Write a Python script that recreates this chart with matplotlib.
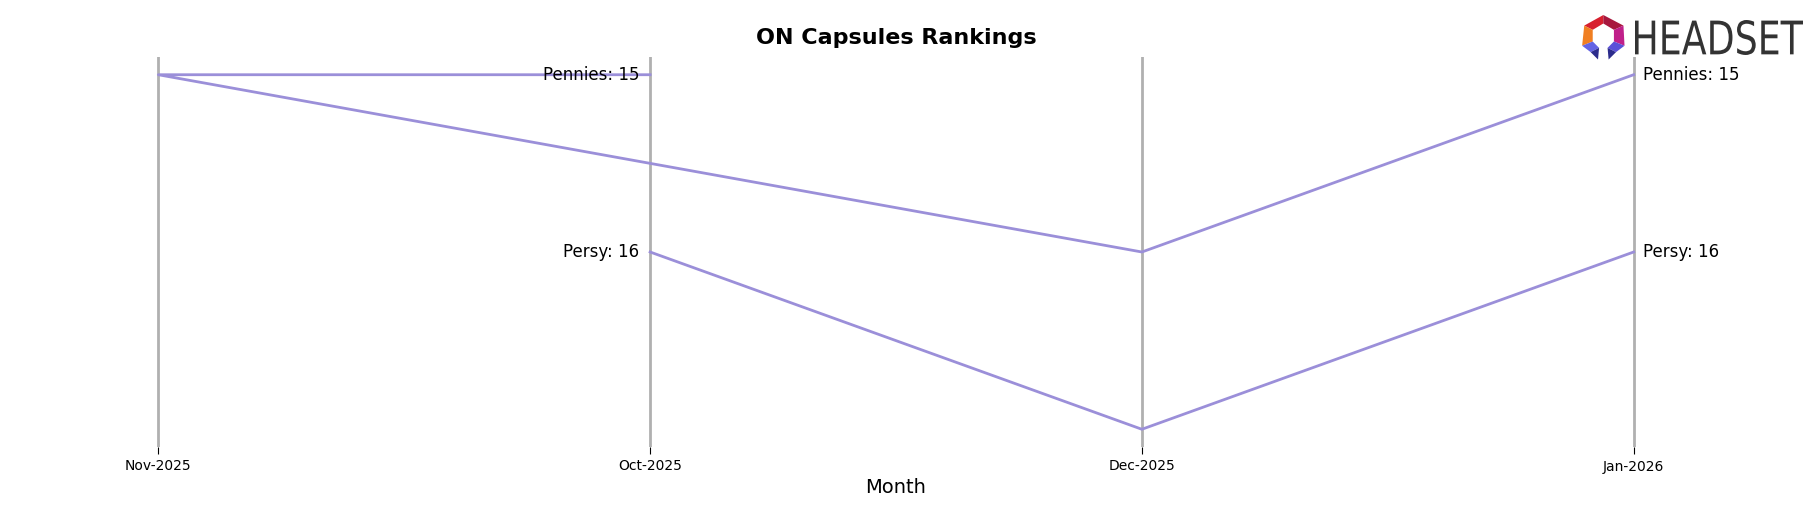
import matplotlib.pyplot as plt
from matplotlib.patches import Polygon, PathPatch
from matplotlib.textpath import TextPath
from matplotlib.font_manager import FontProperties
from matplotlib.transforms import Affine2D

months = ["Nov-2025", "Oct-2025", "Dec-2025", "Jan-2026"]

pennies_months = ["Oct-2025", "Nov-2025", "Dec-2025", "Jan-2026"]
pennies_ranks = [15, 15, 16, 15]

persy_months = ["Oct-2025", "Dec-2025", "Jan-2026"]
persy_ranks = [16, 17, 16]

series = [("Pennies", pennies_months, pennies_ranks),
          ("Persy", persy_months, persy_ranks)]

LINE_COLOR = "#9b8fd9"
W, H = 1818, 507

fig = plt.figure(figsize=(W / 100, H / 100), dpi=100)
ax = fig.add_axes([60 / W, 1 - 447 / H, 1672 / W, 390 / H])

for m in months:
    ax.axvline(months.index(m), color="#b0b0b0", lw=2, zorder=1)

for name, ms, ranks in series:
    xs = [months.index(m) for m in ms]
    ax.plot(xs, ranks, color=LINE_COLOR, lw=2, zorder=2)
    ax.annotate(f"{name}: {ranks[0]}", (xs[0], ranks[0]), xytext=(-8, 0),
                textcoords="offset points", ha="right", va="center", fontsize=12)
    ax.annotate(f"{name}: {ranks[-1]}", (xs[-1], ranks[-1]), xytext=(7, 0),
                textcoords="offset points", ha="left", va="center", fontsize=12)

ax.set_xlim(-0.2, 3.2)
ax.set_ylim(17.1, 14.9)
ax.set_xticks(range(len(months)))
ax.set_xticklabels(months, fontsize=10)
ax.set_yticks([])
ax.tick_params(axis="x", length=5, pad=4)
for s in ax.spines.values():
    s.set_visible(False)
ax.set_xlabel("Month", fontsize=14, labelpad=3)
ax.set_title("ON Capsules Rankings", fontsize=16, fontweight="bold", pad=9)

# logo (pixel coords from top-left)
def px(x, y):
    return (x / W, 1 - y / H)

ox, oy, k = 1580, 15, 1.06
shapes = [
    ("#d8202e", [(4, 10), (22, 0), (22, 8), (12, 14)]),
    ("#a8183e", [(22, 0), (41, 10), (32, 14), (22, 8)]),
    ("#c0208a", [(41, 10), (42, 29), (32, 25), (32, 14)]),
    ("#f07f22", [(4, 10), (12, 14), (12, 25), (2, 29)]),
    ("#6464e4", [(2, 29), (12, 25), (18, 31), (10, 35)]),
    ("#2c2c8c", [(10, 35), (18, 31), (17, 42)]),
    ("#5a50d8", [(42, 29), (32, 25), (26, 31), (34, 35)]),
    ("#2c2c8c", [(34, 35), (26, 31), (27, 42)]),
]
for c, pts in shapes:
    fig.patches.append(Polygon([px(ox + a * k, oy + b * k) for a, b in pts], closed=True,
                               transform=fig.transFigure, facecolor=c, edgecolor="none"))

tp = TextPath((0, 0), "HEADSET", size=100, prop=FontProperties(family="DejaVu Sans"))
bb = tp.get_extents()
sx = 168 / bb.width / W
sy = 35 / bb.height / H
tr = Affine2D().translate(-bb.x0, -bb.y0).scale(sx, sy).translate(1635 / W, 1 - 55 / H)
fig.patches.append(PathPatch(tr.transform_path(tp), transform=fig.transFigure,
                             facecolor="#333333", edgecolor="none"))

fig.savefig("out.png", dpi=100)
